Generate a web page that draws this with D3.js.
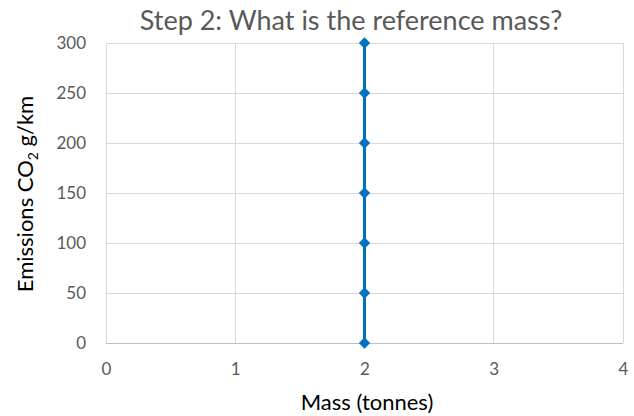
<!DOCTYPE html>
<html><head><meta charset="utf-8">
<script src="https://cdn.jsdelivr.net/npm/d3@7"></script>
<style>body{margin:0;background:#fff}svg{display:block}text{font-family:Lato,sans-serif}</style>
</head><body><svg id="c" width="634" height="416"></svg>
<script>
const title = "Step 2: What is the reference mass?";
const xLabel = "Mass (tonnes)";
const xTicks = [0,1,2,3,4];
const yTicks = [0,50,100,150,200,250,300];
const massX = [2,2,2,2,2,2,2];
const emissionsY = [0,50,100,150,200,250,300];

const svg = d3.select("#c");
const x = d3.scaleLinear().domain([0,4]).range([106,623]);
const y = d3.scaleLinear().domain([0,300]).range([343,43]);
const grid = "#d9d9d9", txt = "#595959";

svg.append("g").selectAll("line").data(yTicks.filter(d=>d>0)).join("line")
  .attr("x1",x(0)).attr("x2",x(4)).attr("y1",d=>y(d)).attr("y2",d=>y(d))
  .attr("stroke",grid).attr("stroke-width",1).attr("shape-rendering","crispEdges");
svg.append("g").selectAll("line").data(xTicks).join("line")
  .attr("x1",d=>x(d)).attr("x2",d=>x(d)).attr("y1",y(0)).attr("y2",y(300))
  .attr("stroke",grid).attr("stroke-width",1).attr("shape-rendering","crispEdges");
svg.append("line").attr("x1",x(0)).attr("x2",x(4)).attr("y1",y(0)).attr("y2",y(0))
  .attr("stroke","#bfbfbf").attr("stroke-width",1).attr("shape-rendering","crispEdges");

const xa = svg.append("g").attr("transform",`translate(0,${y(0)})`)
  .call(d3.axisBottom(x).tickValues(xTicks).tickSize(0).tickPadding(20).tickFormat(d3.format("d")));
const ya = svg.append("g").attr("transform",`translate(${x(0)},0)`)
  .call(d3.axisLeft(y).tickValues(yTicks).tickSize(0).tickPadding(20).tickFormat(d3.format("d")));
[xa,ya].forEach(a=>{a.select(".domain").remove();
  a.attr("font-size",17).attr("font-family","Lato");
  a.selectAll("text").attr("fill",txt);});

const pts = massX.map((m,i)=>({m,e:emissionsY[i]}));
svg.append("path").datum(pts)
  .attr("d",d3.line().x(d=>x(d.m)).y(d=>y(d.e)))
  .attr("fill","none").attr("stroke","#0070C0").attr("stroke-width",3);
svg.append("g").selectAll("path").data(pts).join("path")
  .attr("transform",d=>`translate(${x(d.m)},${y(d.e)}) rotate(45)`)
  .attr("d","M-4,-4H4V4H-4Z").attr("fill","#0070C0");

svg.append("text").attr("x",351).attr("y",30).attr("text-anchor","middle")
  .attr("font-size",27).attr("fill",txt).text(title);
svg.append("text").attr("x",367).attr("y",410).attr("text-anchor","middle")
  .attr("font-size",22).attr("fill","#000").text(xLabel);
const yl = svg.append("text").attr("transform","translate(33,194) rotate(-90)")
  .attr("text-anchor","middle").attr("font-size",22).attr("fill","#000");
yl.append("tspan").text("Emissions CO");
yl.append("tspan").attr("font-size",14).attr("dy",5).text("2");
yl.append("tspan").attr("dy",-5).text(" g/km");
</script></body></html>
